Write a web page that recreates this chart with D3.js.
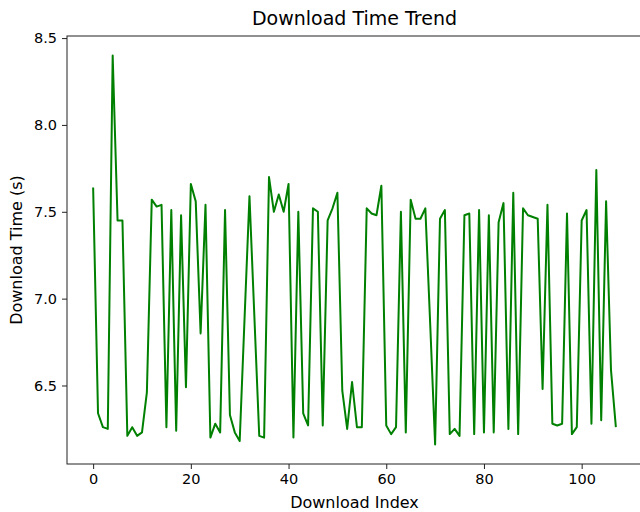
<!DOCTYPE html>
<html>
<head>
<meta charset="utf-8">
<script src="https://cdn.jsdelivr.net/npm/d3@7"></script>
<style>
  body { margin: 0; background: #fff; }
  text { font-family: "DejaVu Sans", sans-serif; fill: #000; }
</style>
</head>
<body>
<svg id="chart" width="640" height="512"></svg>
<script>
// download times (s), one per download index 0..107
var downloadTime = [
  7.64, 6.34, 6.26, 6.25, 8.40, 7.45, 7.45, 6.21, 6.26, 6.21,
  6.23, 6.46, 7.57, 7.53, 7.54, 6.26, 7.51, 6.24, 7.48, 6.49,
  7.66, 7.56, 6.80, 7.54, 6.20, 6.28, 6.23, 7.51, 6.33, 6.23,
  6.18, 6.89, 7.59, 6.90, 6.21, 6.20, 7.70, 7.50, 7.60, 7.50,
  7.66, 6.20, 7.50, 6.34, 6.27, 7.52, 7.50, 6.27, 7.45, 7.52,
  7.61, 6.47, 6.25, 6.52, 6.26, 6.26, 7.52, 7.49, 7.48, 7.65,
  6.27, 6.22, 6.26, 7.50, 6.23, 7.57, 7.46, 7.46, 7.52, 6.85,
  6.16, 7.46, 7.51, 6.22, 6.25, 6.21, 7.48, 7.49, 6.22, 7.51,
  6.23, 7.48, 6.23, 7.44, 7.55, 6.25, 7.61, 6.22, 7.52, 7.48,
  7.47, 7.46, 6.48, 7.54, 6.28, 6.27, 6.28, 7.49, 6.22, 6.26,
  7.45, 7.51, 6.28, 7.74, 6.30, 7.56, 6.59, 6.26
];
var downloadIndex = downloadTime.map(function(d, i){ return i; });

var xTicks = [0, 20, 40, 60, 80, 100];
var yTicks = [6.5, 7.0, 7.5, 8.0, 8.5];

var svg = d3.select("#chart");
var plotL = 67, plotR = 642, plotT = 36, plotB = 464;

// matplotlib style 5% margins
var xExt = d3.extent(downloadIndex), yExt = d3.extent(downloadTime);
var xPad = (xExt[1] - xExt[0]) * 0.05, yPad = (yExt[1] - yExt[0]) * 0.05;

var x = d3.scaleLinear().domain([xExt[0] - xPad, xExt[1] + xPad]).range([plotL, plotR]);
var y = d3.scaleLinear().domain([yExt[0] - yPad, yExt[1] + yPad]).range([plotB, plotT]);

svg.append("rect").attr("width", 640).attr("height", 512).attr("fill", "#fff");

var line = d3.line()
    .x(function(d, i){ return x(downloadIndex[i]); })
    .y(function(d){ return y(d); });

svg.append("path")
    .datum(downloadTime)
    .attr("d", line)
    .attr("fill", "none")
    .attr("stroke", "#008000")
    .attr("stroke-width", 2)
    .attr("stroke-linejoin", "round");

// frame
svg.append("rect")
    .attr("x", plotL).attr("y", plotT)
    .attr("width", plotR - plotL).attr("height", plotB - plotT)
    .attr("fill", "none").attr("stroke", "#222").attr("stroke-width", 1);

var xAxis = svg.append("g")
    .attr("transform", "translate(0," + plotB + ")")
    .call(d3.axisBottom(x).tickValues(xTicks).tickSize(5).tickPadding(5).tickFormat(d3.format("d")));
var yAxis = svg.append("g")
    .attr("transform", "translate(" + plotL + ",0)")
    .call(d3.axisLeft(y).tickValues(yTicks).tickSize(5).tickPadding(5).tickFormat(d3.format(".1f")));

[xAxis, yAxis].forEach(function(a){
    a.select(".domain").remove();
    a.selectAll("line").attr("stroke", "#222");
    a.selectAll("text").style("font-family", "DejaVu Sans").style("font-size", "14.5px").attr("fill", "#222");
});

svg.append("text")
    .attr("x", (plotL + plotR) / 2).attr("y", 25)
    .attr("text-anchor", "middle")
    .style("font-size", "19px")
    .attr("fill", "#222")
    .text("Download Time Trend");

svg.append("text")
    .attr("x", (plotL + plotR) / 2).attr("y", 508)
    .attr("text-anchor", "middle")
    .style("font-size", "16px")
    .attr("fill", "#222")
    .text("Download Index");

svg.append("text")
    .attr("transform", "translate(22," + ((plotT + plotB) / 2) + ") rotate(-90)")
    .attr("text-anchor", "middle")
    .style("font-size", "16px")
    .attr("fill", "#222")
    .text("Download Time (s)");
</script>
</body>
</html>
